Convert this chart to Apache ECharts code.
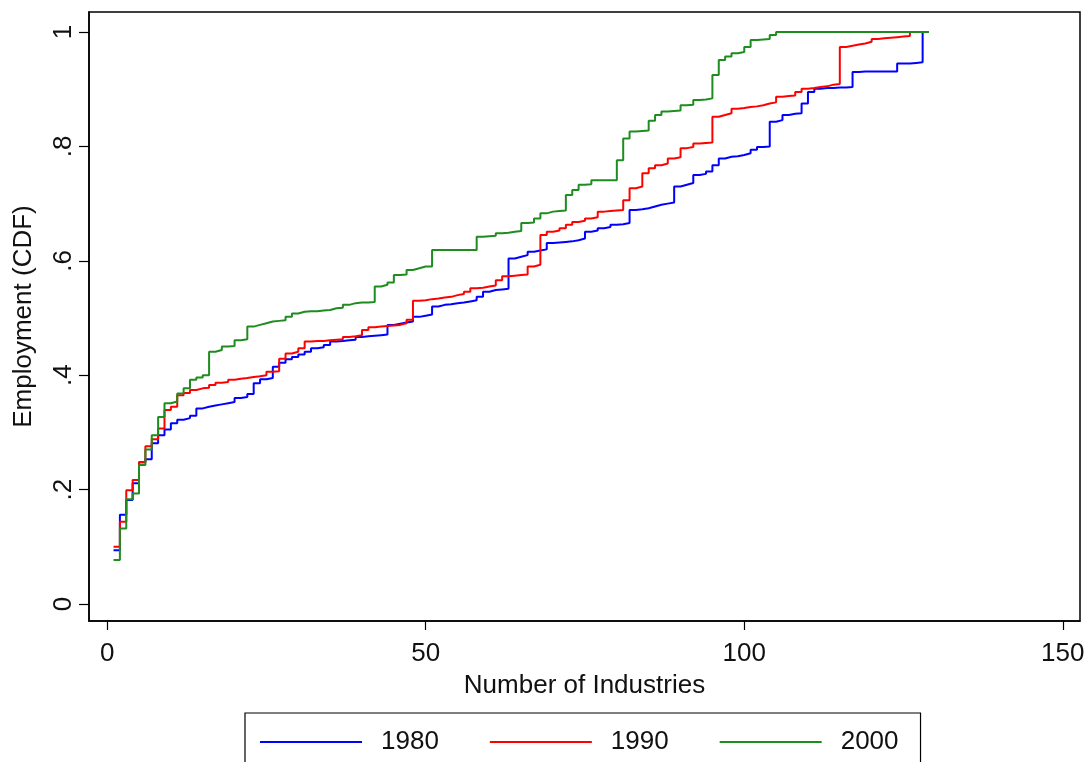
<!DOCTYPE html>
<html>
<head>
<meta charset="utf-8">
<script src="https://cdn.jsdelivr.net/npm/echarts@6/dist/echarts.min.js"></script>
<style>
html,body{margin:0;padding:0;background:#fff;}
#chart{width:1088px;height:762px;}
</style>
</head>
<body>
<div id="chart"></div>
<script>
// Cumulative employment share by industry rank (index k = 1..N)
const years = ['1980', '1990', '2000'];
const xTicks = [0, 50, 100, 150];
const yTicks = [0, 0.2, 0.4, 0.6, 0.8, 1];
const yTickLabels = ['0', '.2', '.4', '.6', '.8', '1'];

const cdf1980 = [
  0.094,0.156,0.182,0.211,0.248,0.253,0.281,0.295,0.305,0.316,
  0.322,0.325,0.329,0.342,0.345,0.347,0.349,0.351,0.353,0.360,
  0.362,0.367,0.386,0.393,0.395,0.415,0.422,0.428,0.432,0.436,
  0.441,0.447,0.449,0.453,0.459,0.460,0.461,0.462,0.467,0.468,
  0.469,0.470,0.471,0.488,0.490,0.492,0.494,0.502,0.504,0.506,
  0.520,0.523,0.524,0.526,0.527,0.529,0.531,0.537,0.546,0.549,
  0.550,0.551,0.604,0.607,0.610,0.616,0.618,0.620,0.631,0.632,
  0.633,0.634,0.636,0.639,0.651,0.653,0.657,0.659,0.663,0.664,
  0.666,0.689,0.690,0.692,0.695,0.698,0.700,0.702,0.730,0.733,
  0.736,0.750,0.752,0.756,0.767,0.779,0.782,0.783,0.785,0.788,
  0.794,0.799,0.800,0.843,0.846,0.855,0.857,0.858,0.875,0.895,
  0.901,0.902,0.902,0.903,0.903,0.904,0.930,0.931,0.931,0.931,
  0.931,0.931,0.931,0.945,0.945,0.946,0.947,1.000
];

const cdf1990 = [
  0.100,0.144,0.199,0.217,0.248,0.276,0.288,0.307,0.339,0.345,
  0.365,0.369,0.374,0.377,0.378,0.383,0.387,0.388,0.392,0.394,
  0.395,0.397,0.398,0.400,0.406,0.407,0.429,0.438,0.441,0.447,
  0.459,0.460,0.460,0.461,0.462,0.463,0.467,0.468,0.470,0.479,
  0.484,0.485,0.486,0.487,0.488,0.491,0.497,0.530,0.531,0.533,
  0.534,0.536,0.537,0.540,0.542,0.546,0.552,0.553,0.555,0.557,
  0.566,0.573,0.574,0.575,0.576,0.590,0.593,0.645,0.651,0.653,
  0.657,0.663,0.668,0.670,0.674,0.676,0.686,0.687,0.688,0.689,
  0.706,0.727,0.730,0.753,0.762,0.767,0.770,0.779,0.781,0.797,
  0.799,0.805,0.806,0.807,0.852,0.855,0.858,0.866,0.867,0.869,
  0.870,0.872,0.875,0.877,0.887,0.888,0.889,0.895,0.901,0.902,
  0.904,0.905,0.908,0.909,0.974,0.976,0.978,0.980,0.983,0.988,
  0.989,0.990,0.991,0.992,0.993,1.000
];

const cdf2000 = [
  0.077,0.132,0.183,0.193,0.243,0.270,0.295,0.327,0.351,0.354,
  0.368,0.377,0.392,0.396,0.400,0.441,0.444,0.450,0.451,0.461,
  0.463,0.485,0.488,0.491,0.494,0.495,0.496,0.502,0.508,0.511,
  0.512,0.512,0.513,0.514,0.517,0.518,0.523,0.526,0.527,0.527,
  0.528,0.555,0.558,0.562,0.575,0.576,0.584,0.587,0.590,0.590,
  0.619,0.619,0.619,0.619,0.619,0.619,0.619,0.642,0.643,0.644,
  0.648,0.649,0.651,0.652,0.666,0.667,0.674,0.683,0.686,0.687,
  0.688,0.715,0.724,0.733,0.734,0.741,0.741,0.741,0.741,0.776,
  0.814,0.826,0.827,0.828,0.845,0.855,0.861,0.862,0.863,0.872,
  0.873,0.881,0.882,0.884,0.925,0.951,0.957,0.963,0.965,0.974,
  0.986,0.987,0.988,0.995,1.000,1.000,1.000,1.000,1.000,1.000,
  1.000,1.000,1.000,1.000,1.000,1.000,1.000,1.000,1.000,1.000,
  1.000,1.000,1.000,1.000,1.000,1.000,1.000,1.000,1.000
];

const seriesValues = [cdf1980, cdf1990, cdf2000];
const colors = ['#0000ff', '#ff0000', '#1e8c1e'];
const FONT = 'Liberation Sans, Arial, sans-serif';

const chart = echarts.init(document.getElementById('chart'), null, {renderer: 'canvas'});

chart.setOption({
  backgroundColor: '#ffffff',
  animation: false,
  grid: {
    left: 89, right: 8, top: 12, bottom: 141,
    show: true, borderColor: '#000', borderWidth: 1.5, backgroundColor: '#fff'
  },
  xAxis: {
    type: 'value',
    min: -2.85, max: 152.7,
    name: 'Number of Industries',
    nameLocation: 'middle',
    nameGap: 52,
    nameTextStyle: {fontFamily: FONT, fontSize: 26, color: '#111'},
    axisLine: {show: true, onZero: false, lineStyle: {color: '#000', width: 1.5}},
    axisTick: {show: true, inside: false, length: 9, customValues: xTicks, lineStyle: {color: '#000', width: 1.2}},
    axisLabel: {show: true, customValues: xTicks, margin: 20, fontFamily: FONT, fontSize: 26, color: '#111'},
    splitLine: {show: false}
  },
  yAxis: {
    type: 'value',
    min: -0.0297, max: 1.035,
    name: 'Employment (CDF)',
    nameLocation: 'middle',
    nameRotate: 90,
    nameGap: 52,
    nameTextStyle: {fontFamily: FONT, fontSize: 26, color: '#111'},
    axisLine: {show: true, onZero: false, lineStyle: {color: '#000', width: 1.5}},
    axisTick: {show: true, inside: false, length: 10, customValues: yTicks, lineStyle: {color: '#000', width: 1.2}},
    axisLabel: {
      show: true, customValues: yTicks, rotate: 90, margin: 12,
      fontFamily: FONT, fontSize: 26, color: '#111',
      formatter: function (v) {
        const i = yTicks.findIndex(t => Math.abs(t - v) < 1e-6);
        return i >= 0 ? yTickLabels[i] : '';
      }
    },
    splitLine: {show: false}
  },
  legend: {
    show: true,
    left: 245, top: 713,
    orient: 'horizontal',
    data: years.map(y => ({name: y, icon: 'rect'})),
    itemWidth: 102, itemHeight: 2, itemGap: 51,
    padding: [14, 22, 40, 15],
    borderColor: '#000', borderWidth: 1.2,
    backgroundColor: '#fff',
    textStyle: {fontFamily: FONT, fontSize: 26, color: '#111', padding: [0, 0, 0, 14], lineHeight: 30}
  },
  series: years.map((y, s) => ({
    name: y,
    type: 'line',
    step: 'end',
    symbol: 'none',
    showSymbol: false,
    color: colors[s],
    itemStyle: {color: colors[s]},
    lineStyle: {width: 2, color: colors[s]},
    data: seriesValues[s].map((v, i) => [i + 1, v])
  }))
});
</script>
</body>
</html>
